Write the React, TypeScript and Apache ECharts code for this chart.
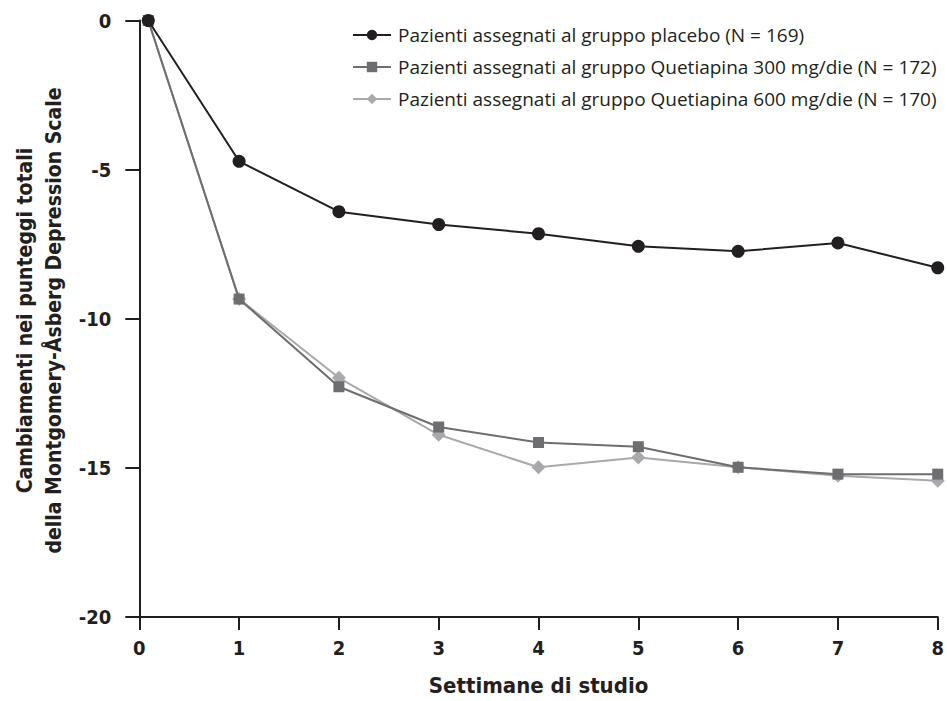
import React, { useEffect, useRef } from "react";
import * as echarts from "echarts";

const weeks = [0.09, 1, 2, 3, 4, 5, 6, 7, 8];
const placebo = [0, -4.72, -6.41, -6.84, -7.15, -7.57, -7.74, -7.46, -8.29];
const quet300 = [0, -9.34, -12.28, -13.63, -14.15, -14.29, -14.98, -15.21, -15.21];
const quet600 = [0, -9.34, -11.98, -13.89, -14.98, -14.65, -14.98, -15.26, -15.43];
const seriesNames = [
  "Pazienti assegnati al gruppo placebo (N = 169)",
  "Pazienti assegnati al gruppo Quetiapina 300 mg/die (N = 172)",
  "Pazienti assegnati al gruppo Quetiapina 600 mg/die (N = 170)",
];
const xTitle = "Settimane di studio";
const yTitle = "Cambiamenti nei punteggi totali\ndella Montgomery-Åsberg Depression Scale";

const INK = "#231f20";
const COND = "'Liberation Sans Narrow', 'DejaVu Sans Condensed', 'Roboto Condensed', sans-serif";

export default function App() {
  const ref = useRef<HTMLDivElement>(null);
  useEffect(() => {
    if (!ref.current) return;
    const chart = echarts.init(ref.current, undefined, { renderer: "svg" });
    const pair = (ys: number[]) => weeks.map((w, i) => [w, ys[i]]);
    chart.setOption({
      animation: false,
      backgroundColor: "#ffffff",
      grid: { left: 139.3, right: 7.7, top: 20.5, bottom: 80.5, containLabel: false },
      legend: {
        orient: "vertical",
        left: 347,
        top: 20,
        itemWidth: 38,
        itemHeight: 13,
        itemGap: 12,
        data: seriesNames,
        textStyle: {
          fontFamily: "'Open Sans', 'Noto Sans', sans-serif",
          fontSize: 19,
          lineHeight: 20,
          color: INK,
          padding: [0, 0, 0, 2],
        },
      },
      xAxis: {
        type: "value",
        min: 0,
        max: 8,
        interval: 1,
        name: xTitle,
        nameLocation: "middle",
        nameGap: 57,
        nameTextStyle: { fontFamily: COND, fontWeight: "bold", fontSize: 22, color: INK },
        axisLine: { onZero: false, lineStyle: { color: INK, width: 2 } },
        axisTick: { show: true, length: 13, lineStyle: { color: INK, width: 2 } },
        axisLabel: { margin: 21, fontFamily: COND, fontWeight: "bold", fontSize: 20, color: INK },
        splitLine: { show: false },
      },
      yAxis: {
        type: "value",
        min: -20,
        max: 0,
        interval: 5,
        axisLine: { show: true, onZero: false, lineStyle: { color: INK, width: 2 } },
        axisTick: { show: true, length: 14, lineStyle: { color: INK, width: 2 } },
        axisLabel: { margin: 28, fontFamily: COND, fontWeight: "bold", fontSize: 20, color: INK },
        splitLine: { show: false },
      },
      graphic: [
        {
          type: "text",
          x: 39,
          y: 320.5,
          rotation: Math.PI / 2,
          style: {
            text: yTitle,
            fontFamily: COND,
            fontWeight: "bold",
            fontSize: 21,
            lineHeight: 29,
            fill: INK,
            align: "center",
            verticalAlign: "middle",
          },
        },
      ],
      series: [
        {
          name: seriesNames[0],
          type: "line",
          data: pair(placebo),
          z: 4,
          symbol: "circle",
          symbolSize: 13,
          lineStyle: { color: INK, width: 2 },
          itemStyle: { color: INK },
        },
        {
          name: seriesNames[1],
          type: "line",
          data: pair(quet300),
          z: 3,
          symbol: "rect",
          symbolSize: 11,
          lineStyle: { color: "#6d6e71", width: 2 },
          itemStyle: { color: "#6d6e71" },
        },
        {
          name: seriesNames[2],
          type: "line",
          data: pair(quet600),
          z: 2,
          symbol: "diamond",
          symbolSize: 14,
          lineStyle: { color: "#a7a9ac", width: 2 },
          itemStyle: { color: "#a7a9ac" },
        },
      ],
    });
    return () => chart.dispose();
  }, []);
  return <div ref={ref} style={{ width: 947, height: 701, position: "absolute", left: 0, top: 0 }} />;
}
